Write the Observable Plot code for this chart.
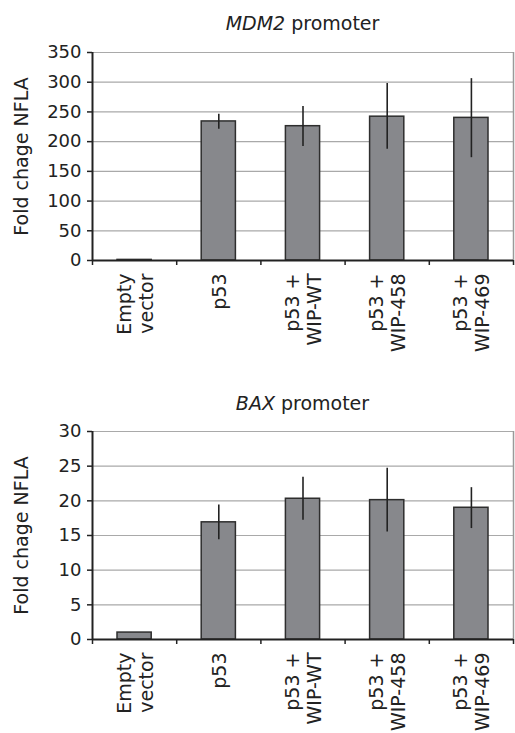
<!DOCTYPE html>
<html>
<head>
<meta charset="utf-8">
<script src="https://cdn.jsdelivr.net/npm/d3@7"></script>
<script src="https://cdn.jsdelivr.net/npm/@observablehq/plot@0.6"></script>
<style>
  html, body { margin: 0; padding: 0; background: #fff; }
  body { width: 515px; font-family: "DejaVu Sans", sans-serif; color: #222; }
  .title { box-sizing: border-box; padding-left: 92px; padding-right: 2px; text-align: center; font-size: 19px; line-height: 22px; }
  #t1 { height: 40px; padding-top: 12px; }
  #t2 { height: 59px; padding-top: 32px; }
</style>
</head>
<body>
<div class="title" id="t1"><i>MDM2</i> promoter</div>
<div id="c1"></div>
<div class="title" id="t2"><i>BAX</i> promoter</div>
<div id="c2"></div>
<script>
// ---- data ----
const categories = ["Empty\nvector", "p53", "p53 +\nWIP-WT", "p53 +\nWIP-458", "p53 +\nWIP-469"];
const yLabel = "Fold chage NFLA";

const mdm2Values = [1, 234, 226, 242, 240];
const mdm2Low    = [1, 221, 192, 187, 173];
const mdm2High   = [1, 246, 259, 298, 306];
const mdm2Ticks  = [0, 50, 100, 150, 200, 250, 300, 350];

const baxValues = [1.0, 16.9, 20.3, 20.1, 19.0];
const baxLow    = [1.0, 14.4, 17.2, 15.5, 16.0];
const baxHigh   = [1.0, 19.4, 23.4, 24.7, 21.9];
const baxTicks  = [0, 5, 10, 15, 20, 25, 30];

function chart(values, low, high, ticks) {
  const rows = categories.map((c, i) => ({i, cat: c, v: values[i], lo: low[i], hi: high[i]}));
  const bounds = d3.range(categories.length + 1);
  const err = rows.filter(d => d.hi > d.lo);
  return Plot.plot({
    width: 515,
    height: 320,
    marginLeft: 92,
    marginRight: 2,
    marginTop: 12,
    marginBottom: 100,
    style: {fontFamily: "DejaVu Sans, sans-serif", fontSize: "18px", color: "#222", background: "#fff", overflow: "visible"},
    x: {type: "linear", domain: [0, categories.length], axis: null},
    y: {domain: [ticks[0], ticks[ticks.length - 1]], axis: null},
    marks: [
      Plot.ruleY(ticks, {stroke: "#a9a9a9", strokeWidth: 1.2}),
      Plot.ruleX([categories.length], {stroke: "#9a9a9a", strokeWidth: 1.5}),
      Plot.rect(rows, {x1: "i", x2: d => d.i + 1, y1: 0, y2: "v", insetLeft: 25, insetRight: 25,
        fill: "#87888c", stroke: "#2e2e2e", strokeWidth: 1.5}),
      Plot.ruleX(err, {x: d => d.i + 0.5, y1: "lo", y2: "hi", stroke: "#222", strokeWidth: 1.6}),
      Plot.ruleY([ticks[0]], {stroke: "#222", strokeWidth: 2}),
      Plot.ruleX([0], {stroke: "#222", strokeWidth: 2}),
      Plot.axisY(ticks, {tickSize: 5, tickPadding: 6, stroke: "#222", strokeWidth: 1.5, fontSize: 18, label: null}),
      Plot.axisX(bounds, {tickSize: 5, tickFormat: () => "", stroke: "#222", strokeWidth: 1.5, label: null}),
      Plot.text(rows, {x: d => d.i + 0.5, text: "cat", frameAnchor: "bottom", rotate: -90,
        textAnchor: "end", lineAnchor: "middle", dy: 13, fontSize: 19, lineHeight: 1.15, fill: "#222"}),
      Plot.text([yLabel], {frameAnchor: "left", rotate: -90, dx: -71, textAnchor: "middle",
        lineAnchor: "middle", fontSize: 19, fill: "#222"})
    ]
  });
}

document.getElementById("c1").appendChild(chart(mdm2Values, mdm2Low, mdm2High, mdm2Ticks));
document.getElementById("c2").appendChild(chart(baxValues, baxLow, baxHigh, baxTicks));
</script>
</body>
</html>
